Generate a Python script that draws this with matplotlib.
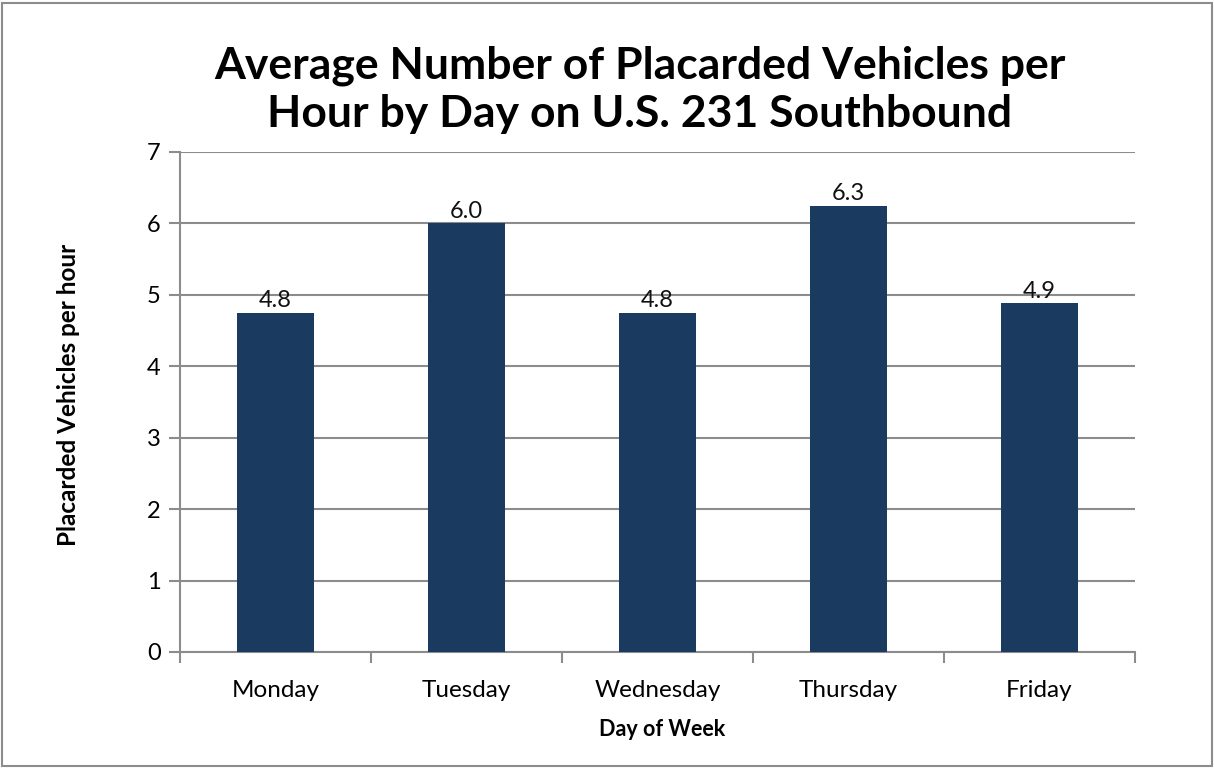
import matplotlib
matplotlib.use("Agg")
import matplotlib.pyplot as plt
from matplotlib.patches import Rectangle

days = ["Monday", "Tuesday", "Wednesday", "Thursday", "Friday"]
values = [4.75, 6.0, 4.75, 6.25, 4.88]
labels = ["4.8", "6.0", "4.8", "6.3", "4.9"]
title = "Average Number of Placarded Vehicles per\nHour by Day on U.S. 231 Southbound"

plt.rcParams['font.family'] = ['Lato', 'DejaVu Sans']

W, H = 1214, 768
fig = plt.figure(figsize=(W/100, H/100), dpi=100)
ax = fig.add_axes([180/W, 1-652/H, (1135-180)/W, (652-152)/H])

x = list(range(len(days)))
ax.bar(x, values, width=0.4, color="#1B3A5F", zorder=3)
for xi, v, lab in zip(x, values, labels):
    ax.text(xi, v + 0.02, lab, ha="center", va="bottom", fontsize=17, color="#111111", zorder=4)

ax.set_xlim(-0.5, 4.5)
ax.set_ylim(0, 7)
ax.set_yticks(range(0, 8))
ax.yaxis.grid(True, color="#8c8c8c", linewidth=1.5, zorder=0)
ax.set_axisbelow(True)
for s in ["top", "right"]:
    ax.spines[s].set_visible(False)
for s in ["left", "bottom"]:
    ax.spines[s].set_color("#8c8c8c")
    ax.spines[s].set_linewidth(1.5)

ax.set_xticks(x)
ax.set_xticklabels(days, fontsize=17.5)
ax.tick_params(axis="x", length=0, pad=20)
ax.set_xticks([i - 0.5 for i in range(6)], minor=True)
ax.tick_params(axis="x", which="minor", length=8, width=1.5, color="#8c8c8c", direction="out")
ax.tick_params(axis="y", length=8, width=1.5, color="#8c8c8c", labelsize=17, pad=6)

ax.set_xlabel("Day of Week", fontsize=15.5, fontweight="bold")
ax.set_ylabel("Placarded Vehicles per hour", fontsize=17.5, fontweight="bold")
ax.xaxis.set_label_coords((662-180)/(1135-180), -(730-652)/500)
ax.yaxis.set_label_coords(-(180-69)/(1135-180), (652-395)/500)
ax.xaxis.label.set_va("center")
ax.yaxis.label.set_va("center")

fig.text(640/W, 1-90/H, title, ha="center", va="center", fontsize=32, fontweight="bold",
         linespacing=1.25)

fig.patches.append(Rectangle((2/W, 2/H), (W-4)/W, (H-5)/H, transform=fig.transFigure,
                             fill=False, edgecolor="#8c8c8c", linewidth=1.5))

fig.savefig("out.png", dpi=100)
